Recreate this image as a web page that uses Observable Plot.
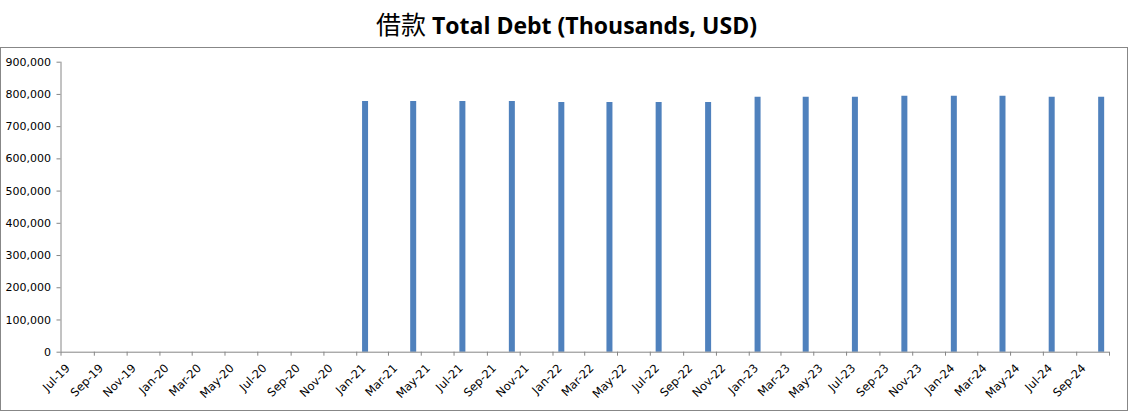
<!DOCTYPE html>
<html><head><meta charset="utf-8">
<script src="https://cdn.jsdelivr.net/npm/d3@7"></script>
<script src="https://cdn.jsdelivr.net/npm/@observablehq/plot@0.6"></script>
<style>
body{margin:0;background:#fff;}
#title{position:absolute;left:0;top:0;width:1133px;height:47px;text-align:center;font-family:"Open Sans","Noto Sans CJK SC",sans-serif;font-weight:bold;font-size:23px;line-height:46px;color:#000;white-space:nowrap;}
#title .zh{font-family:"Noto Sans CJK SC",sans-serif;font-weight:normal;font-size:25px;}
#frame{position:absolute;left:0;top:47px;width:1126px;height:362px;border:1px solid #878787;}
#frame svg{display:block;}
</style></head>
<body>
<div id="title"><span class="zh">借款</span> Total Debt (Thousands, USD)</div>
<div id="frame"></div>
<script>
// Quarterly periods with data
const periods = ["Jan-21","Apr-21","Jul-21","Oct-21","Jan-22","Apr-22","Jul-22","Oct-22",
                 "Jan-23","Apr-23","Jul-23","Oct-23","Jan-24","Apr-24","Jul-24","Oct-24"];
const debt = [778000,778000,778000,778000,775000,775000,775000,775000,
              791000,791000,791000,794000,794000,794000,791000,791000];
// Axis tick labels
const xTickLabels = ["Jul-19","Sep-19","Nov-19","Jan-20","Mar-20","May-20","Jul-20","Sep-20","Nov-20",
  "Jan-21","Mar-21","May-21","Jul-21","Sep-21","Nov-21","Jan-22","Mar-22","May-22","Jul-22","Sep-22","Nov-22",
  "Jan-23","Mar-23","May-23","Jul-23","Sep-23","Nov-23","Jan-24","Mar-24","May-24","Jul-24","Sep-24"];
const xAxisEnd = "Nov-24";
const yTicks = [0,100000,200000,300000,400000,500000,600000,700000,800000,900000];

const parse = d3.utcParse("%b-%y");
const fmt = d3.utcFormat("%b-%y");
const midMonth = s => { const d = parse(s); const n = d3.utcMonth.offset(d, 1); return new Date((+d + +n) / 2); };
const data = periods.map((p, i) => ({date: midMonth(p), value: debt[i]}));
const x0 = parse(xTickLabels[0]), x1 = parse(xAxisEnd);
const labelDates = xTickLabels.map(parse);
const tickDates = labelDates.concat([x1]);

const axisColor = "#868686";
const chart = Plot.plot({
  width: 1126, height: 362,
  marginLeft: 59.5, marginRight: 18, marginTop: 13.7, marginBottom: 58.3,
  style: {fontFamily: "DejaVu Sans, sans-serif", fontSize: "11px", color: "#000", background: "#fff", overflow: "visible"},
  x: {type: "utc", domain: [x0, x1]},
  y: {domain: [0, 900000]},
  marks: [
    Plot.ruleX(data, {x: "date", y1: 0, y2: "value", stroke: "#4F81BD", strokeWidth: 6}),
    Plot.ruleY([0], {stroke: axisColor}),
    Plot.ruleX([x0], {y1: 0, y2: 900000, stroke: axisColor}),
    Plot.axisY({ticks: yTicks, tickFormat: d3.format(","), tickSize: 4, tickPadding: 6, stroke: axisColor, fill: "#000", label: null}),
    // tick marks only
    Plot.axisX({ticks: tickDates, tickFormat: () => "", tickSize: 4, stroke: axisColor, label: null}),
    // rotated labels only
    Plot.axisX({ticks: labelDates, tickFormat: fmt, tickRotate: -45, tickSize: 0, tickPadding: 14, dx: 7, fontSize: 11.5, fill: "#000", label: null})
  ]
});
document.getElementById("frame").appendChild(chart);
</script>
</body></html>
